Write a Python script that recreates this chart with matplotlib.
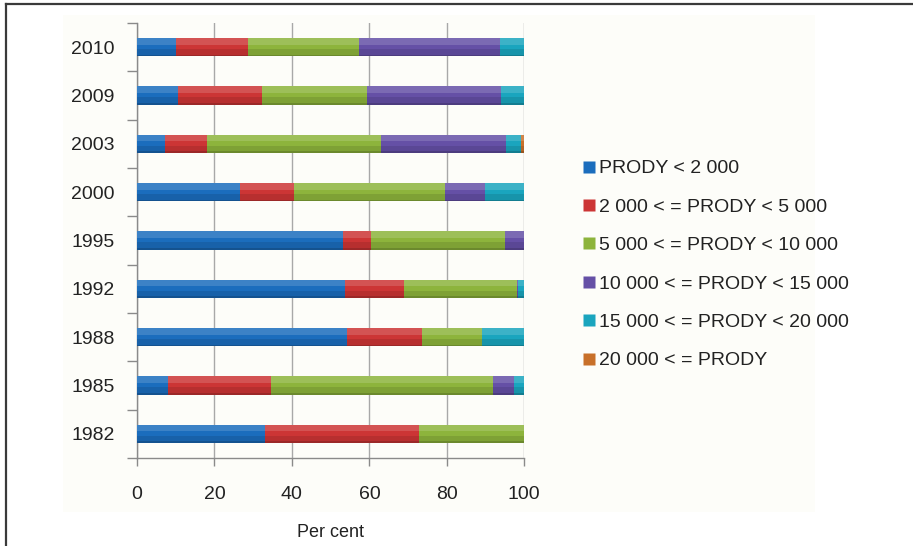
import numpy as np
import matplotlib
matplotlib.use('Agg')
import matplotlib.pyplot as plt
from matplotlib.lines import Line2D
from matplotlib.patches import Rectangle

plt.rcParams['font.family'] = ['Liberation Sans', 'DejaVu Sans']

years = ['1982', '1985', '1988', '1992', '1995', '2000', '2003', '2009', '2010']
labels = ['PRODY < 2 000', '2 000 < = PRODY < 5 000', '5 000 < = PRODY < 10 000',
          '10 000 < = PRODY < 15 000', '15 000 < = PRODY < 20 000', '20 000 < = PRODY']

# shares in per cent, one list per PRODY band, ordered as years
below_2k = [33.1, 8.0, 54.2, 53.6, 53.3, 26.5, 7.3, 10.7, 10.1]
band_2k_5k = [39.8, 26.6, 19.5, 15.4, 7.1, 14.1, 10.8, 21.5, 18.5]
band_5k_10k = [27.1, 57.3, 15.3, 29.2, 34.6, 38.8, 44.9, 27.1, 28.6]
band_10k_15k = [0.0, 5.5, 0.0, 0.3, 5.0, 10.5, 32.2, 34.7, 36.5]
band_15k_20k = [0.0, 2.6, 11.0, 1.5, 0.0, 10.1, 3.9, 6.0, 6.3]
above_20k = [0.0, 0.0, 0.0, 0.0, 0.0, 0.0, 0.9, 0.0, 0.0]

series = [below_2k, band_2k_5k, band_5k_10k, band_10k_15k, band_15k_20k, above_20k]
colors = ['#1b6dbd', '#cc3535', '#8db43c', '#6550a6', '#1aa5be', '#c8702a']

fig = plt.figure(figsize=(9.13, 5.46), dpi=100)
fig.patches.append(Rectangle((63/913, 1-512/546), (815-63)/913, (512-15)/546,
                             transform=fig.transFigure, facecolor='#fdfdf9',
                             edgecolor='none', zorder=-5))
fig.add_artist(Line2D([0.0066, 0.0066], [0, 0.9927], color='#3a3a3a', lw=1.6))
fig.add_artist(Line2D([0.0066, 1], [0.9927, 0.9927], color='#3a3a3a', lw=1.6))

ax = fig.add_axes([137/913, 88/546, (524.3-137)/913, (458-23)/546])
ax.set_facecolor('none')
ax.set_zorder(2)

y = np.arange(len(years))
h = 0.38
left = np.zeros(len(years))
for vals, col in zip(series, colors):
    vals = np.array(vals)
    ax.barh(y, vals, left=left, height=h, color=col, edgecolor='none', zorder=3)
    # bevel: light top band, darker shading toward the bottom edge
    ax.barh(y + h*0.32, vals, left=left, height=h*0.36, color='white', alpha=0.15,
            edgecolor='none', zorder=4)
    ax.barh(y - h*0.3, vals, left=left, height=h*0.4, color='black', alpha=0.1,
            edgecolor='none', zorder=4)
    ax.barh(y - h*0.45, vals, left=left, height=h*0.1, color='black', alpha=0.15,
            edgecolor='none', zorder=4)
    left += vals

ax.set_xlim(0, 100)
ax.set_ylim(-0.5, len(years) - 0.5)
ax.set_xticks([0, 20, 40, 60, 80, 100])
ax.set_yticks(y)
ax.set_yticklabels(years)
ax.set_yticks(np.arange(-0.5, len(years)), minor=True)
ax.tick_params(axis='y', which='major', length=0, pad=16, labelsize=14, colors='#222222')
ax.tick_params(axis='y', which='minor', length=7, width=1, color='#8a8a8a')
ax.tick_params(axis='x', length=6, width=1, color='#8a8a8a', pad=14, labelsize=14,
               labelcolor='#222222')
ax.grid(axis='x', color='#a8a8a8', lw=1, zorder=1)
for s in ['top', 'right']:
    ax.spines[s].set_visible(False)
for s in ['left', 'bottom']:
    ax.spines[s].set_color('#8a8a8a')
    ax.spines[s].set_linewidth(1)
ax.set_xlabel('Per cent', fontsize=13, color='#222222', labelpad=15)

handles = [Line2D([], [], marker='s', ls='none', markersize=9, markerfacecolor=c,
                  markeredgecolor='none') for c in colors]
fig.legend(handles, labels, loc='upper left', bbox_to_anchor=(575/913, 1-152/546),
           frameon=False, fontsize=14, labelspacing=1.07, handlelength=0.6,
           handletextpad=0.25, borderaxespad=0, labelcolor='#222222')

fig.savefig('out.png', dpi=100)
